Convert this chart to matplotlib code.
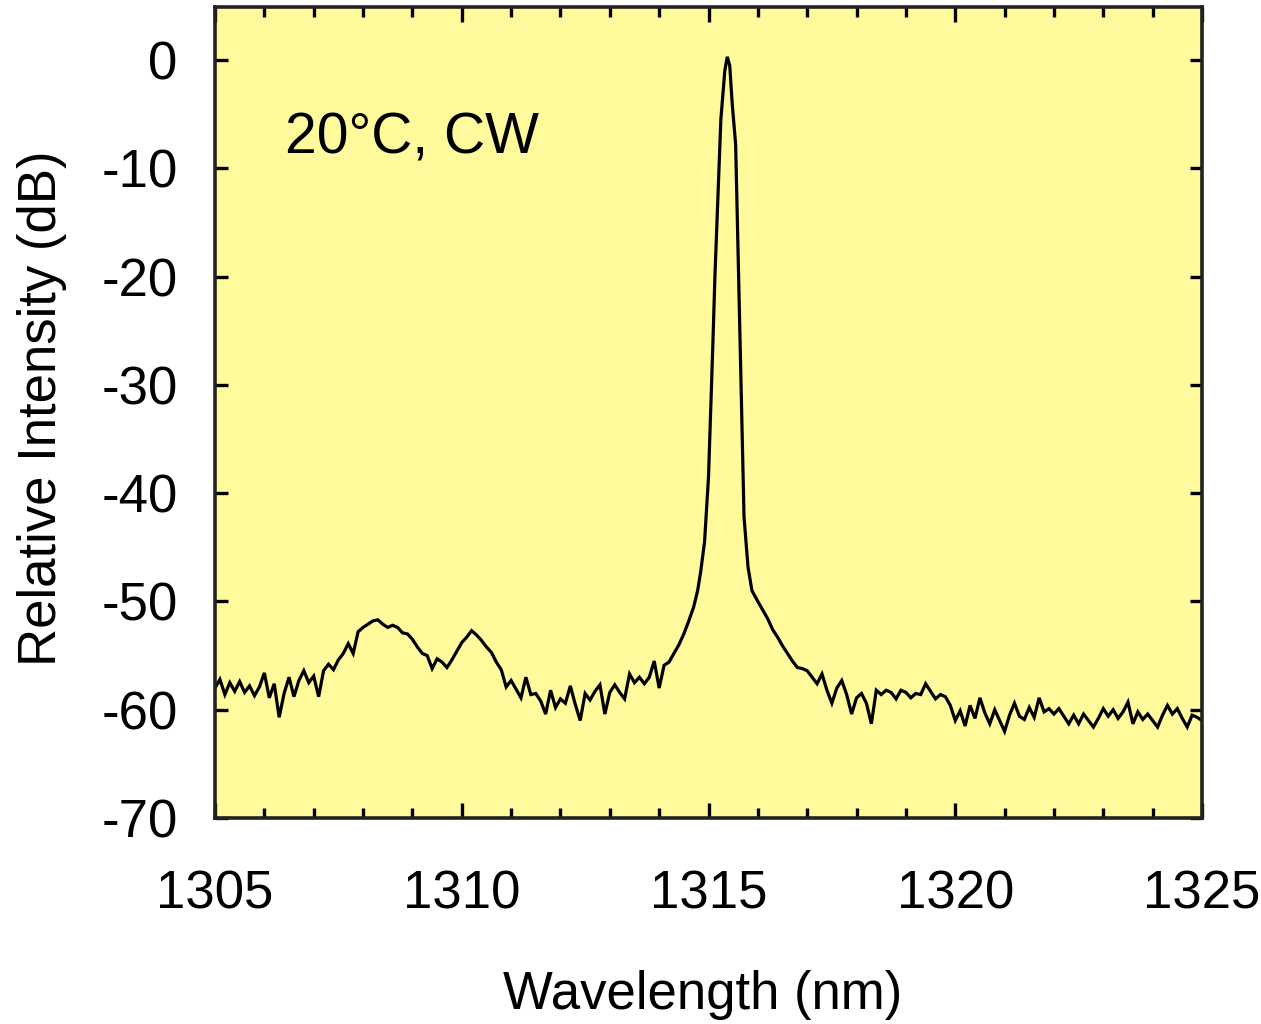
import matplotlib
matplotlib.use("Agg")
import matplotlib.pyplot as plt
from matplotlib.ticker import MultipleLocator

# ---- data ----
wl_left = [1305.0, 1305.1, 1305.2, 1305.3, 1305.4, 1305.5, 1305.6, 1305.7, 1305.8, 1305.9,
           1306.0, 1306.1, 1306.2, 1306.3, 1306.4, 1306.5, 1306.6, 1306.7, 1306.8, 1306.9,
           1307.0, 1307.1, 1307.2, 1307.3, 1307.4, 1307.5, 1307.6, 1307.7, 1307.8, 1307.9,
           1308.0, 1308.1, 1308.2, 1308.3, 1308.4, 1308.5, 1308.6, 1308.7, 1308.8, 1308.9,
           1309.0, 1309.1, 1309.2, 1309.3, 1309.4, 1309.5, 1309.6, 1309.7, 1309.8, 1309.9,
           1310.0, 1310.1, 1310.2, 1310.3, 1310.4, 1310.5, 1310.6, 1310.7, 1310.8, 1310.9,
           1311.0, 1311.1, 1311.2, 1311.3, 1311.4, 1311.5, 1311.6, 1311.7, 1311.8, 1311.9,
           1312.0, 1312.1, 1312.2, 1312.3, 1312.4, 1312.5, 1312.6, 1312.7, 1312.8, 1312.9,
           1313.0, 1313.1, 1313.2, 1313.3, 1313.4, 1313.5, 1313.6, 1313.7, 1313.8, 1313.9,
           1314.0, 1314.1, 1314.2, 1314.3, 1314.4, 1314.5, 1314.6]
db_left = [-58.0, -57.2, -58.6, -57.5, -58.3, -57.4, -58.4, -57.8, -58.7, -57.9,
           -56.6, -58.9, -57.6, -60.7, -58.5, -57.0, -58.8, -57.3, -56.4, -57.5,
           -56.9, -58.8, -56.4, -55.8, -56.3, -55.4, -54.8, -53.9, -54.8, -52.8,
           -52.4, -52.1, -51.8, -51.7, -52.1, -52.4, -52.2, -52.4, -52.9, -53.0,
           -53.5, -54.2, -54.8, -55.0, -56.2, -55.3, -55.6, -56.1, -55.4, -54.6,
           -53.8, -53.3, -52.7, -53.1, -53.6, -54.2, -54.7, -55.6, -56.3, -57.9,
           -57.3, -58.1, -58.9, -57.0, -58.6, -58.5, -59.2, -60.4, -58.2, -59.8,
           -59.0, -59.4, -57.8, -59.5, -61.0, -58.5, -59.1, -58.3, -57.7, -60.4,
           -58.4, -57.7, -58.4, -59.0, -56.7, -57.5, -57.0, -57.6, -57.0, -55.5,
           -58.0, -55.9, -55.6, -54.8, -54.0, -53.0, -51.8]

wl_peak = [1314.70, 1314.78, 1314.84, 1314.92, 1315.00, 1315.09, 1315.13, 1315.25,
           1315.33, 1315.38, 1315.43, 1315.48, 1315.55, 1315.64, 1315.72, 1315.80,
           1315.88]
db_peak = [-50.5, -49.0, -47.3, -44.5, -38.5, -26.0, -20.0, -5.5,
           -1.0, 0.3, -0.5, -4.0, -7.8, -26.0, -42.2, -46.8,
           -49.0]

wl_right = [1316.0, 1316.1, 1316.2, 1316.3, 1316.4, 1316.5, 1316.6, 1316.7, 1316.8, 1316.9,
            1317.0, 1317.1, 1317.2, 1317.3, 1317.4, 1317.5, 1317.6, 1317.7, 1317.8, 1317.9,
            1318.0, 1318.1, 1318.2, 1318.3, 1318.4, 1318.5, 1318.6, 1318.7, 1318.8, 1318.9,
            1319.0, 1319.1, 1319.2, 1319.3, 1319.4, 1319.5, 1319.6, 1319.7, 1319.8, 1319.9,
            1320.0, 1320.1, 1320.2, 1320.3, 1320.4, 1320.5, 1320.6, 1320.7, 1320.8, 1320.9,
            1321.0, 1321.1, 1321.2, 1321.3, 1321.4, 1321.5, 1321.6, 1321.7, 1321.8, 1321.9,
            1322.0, 1322.1, 1322.2, 1322.3, 1322.4, 1322.5, 1322.6, 1322.7, 1322.8, 1322.9,
            1323.0, 1323.1, 1323.2, 1323.3, 1323.4, 1323.5, 1323.6, 1323.7, 1323.8, 1323.9,
            1324.0, 1324.1, 1324.2, 1324.3, 1324.4, 1324.5, 1324.6, 1324.7, 1324.8, 1324.9,
            1325.0]
db_right = [-50.0, -50.8, -51.6, -52.6, -53.3, -54.1, -54.8, -55.5, -56.1, -56.2,
            -56.4, -57.0, -57.6, -56.7, -58.2, -59.4, -58.0, -57.3, -58.6, -60.4,
            -58.9, -58.5, -59.4, -61.3, -58.2, -58.6, -58.2, -58.4, -59.0, -58.2,
            -58.4, -58.9, -58.5, -58.6, -57.6, -58.3, -59.0, -58.6, -58.8, -59.6,
            -61.0, -60.1, -61.5, -59.6, -60.8, -58.9, -60.3, -61.3, -60.0, -61.0,
            -62.0, -60.5, -59.4, -60.6, -60.9, -59.8, -60.7, -58.9, -60.2, -59.9,
            -60.4, -59.9, -60.6, -61.3, -60.5, -61.3, -60.4, -61.0, -61.6, -60.8,
            -59.9, -60.6, -60.0, -60.8, -60.2, -59.3, -61.3, -60.2, -60.9, -60.4,
            -61.0, -61.6, -60.5, -59.6, -60.4, -59.9, -60.8, -61.6, -60.5, -60.7,
            -61.0]

wavelength = wl_left + wl_peak + wl_right
intensity = db_left + db_peak + db_right

x_ticks = [1305, 1310, 1315, 1320, 1325]
y_ticks = [0, -10, -20, -30, -40, -50, -60, -70]
annotation = "20°C, CW"

# ---- figure ----
plt.rcParams['font.family'] = ['Liberation Sans', 'DejaVu Sans']
fig = plt.figure(figsize=(12.61, 10.24), dpi=100)
ax = fig.add_axes([215 / 1261, 1 - 818 / 1024, (1202 - 215) / 1261, (818 - 7) / 1024])
ax.set_facecolor('#FFFA9C')

ax.plot(wavelength, intensity, color='black', lw=2.3, solid_joinstyle='miter')

ax.set_xlim(1305, 1325)
ax.set_ylim(-70, 4.9)
ax.set_xticks(x_ticks)
ax.set_xticklabels([str(t) for t in x_ticks])
ax.xaxis.set_minor_locator(MultipleLocator(1))
ax.set_yticks(y_ticks)
ax.set_yticklabels([str(t) for t in y_ticks])

ax.tick_params(axis='x', which='major', direction='in', length=11, width=2.4,
               top=True, bottom=True, labelsize=38, pad=37)
ax.tick_params(axis='x', which='minor', direction='in', length=7, width=2.4,
               top=True, bottom=True)
ax.tick_params(axis='y', which='major', direction='in', length=9, width=2.4,
               left=True, right=True, labelsize=38, pad=27)
for sp in ax.spines.values():
    sp.set_linewidth(2.6)
    sp.set_color('#222222')

ax.text(1306.42, -7.2, annotation, fontsize=41, ha='left', va='center')

fig.text(703 / 1261, 1 - 995 / 1024, "Wavelength (nm)", fontsize=38,
         ha='center', va='center')
fig.text(42 / 1261, 1 - 408 / 1024, "Relative Intensity (dB)", fontsize=38,
         ha='center', va='center', rotation=90)

fig.savefig("out.png", dpi=100)
